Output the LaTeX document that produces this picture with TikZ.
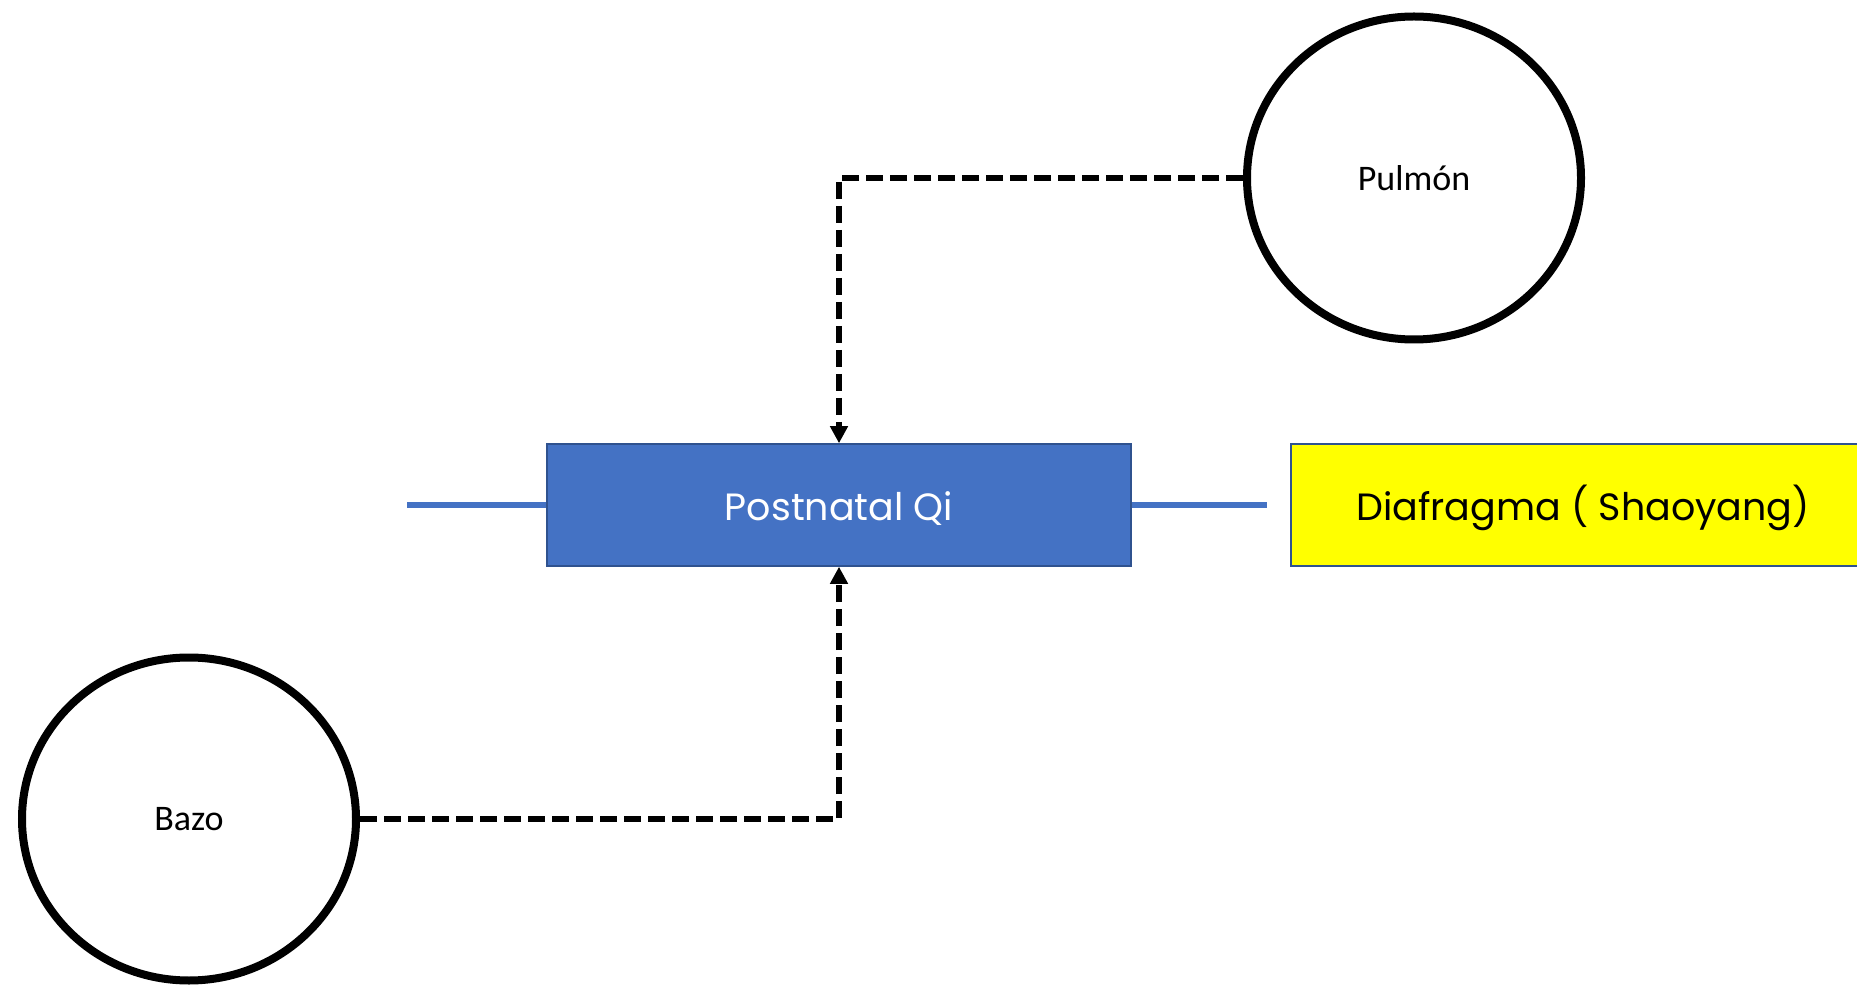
\documentclass[tikz,border=0pt]{standalone}
\usepackage{fontspec}
\setmainfont{Carlito}
\newfontfamily\titlefont{Poppins}
\usepackage{tikz}
\usetikzlibrary{calc,positioning,arrows.meta,shapes.geometric}

\definecolor{qiblue}{HTML}{4472C4}
\definecolor{qiedge}{HTML}{2F528F}
\definecolor{qiyellow}{HTML}{FFFF00}

\tikzset{
	organ/.style={draw=black,line width=4pt,ellipse,minimum width=167pt,minimum height=161.5pt,font=\fontsize{18}{20}\selectfont},
	qibox/.style={draw=qiedge,line width=0.75pt,minimum width=292pt,minimum height=61pt,text height=18pt,text depth=2pt,font=\titlefont\fontsize{19}{22}\selectfont},
	qiline/.style={draw=qiblue,line width=3.2pt},
	flow/.style={draw=black,line width=3pt,dash pattern=on 8.5pt off 3.5pt,-{Triangle[length=8.5pt,width=8.5pt]}}
}

\begin{document}
\begin{tikzpicture}[x=0.5pt,y=-0.5pt]
		\useasboundingbox (0,0) rectangle (1857,988);
		\clip (0,0) rectangle (1857,988);

		\node[qibox,fill=qiblue,text=white] (postnatal) at (839,505) {Postnatal Qi};
		\node[qibox,fill=qiyellow,text=black] (diafragma) at (1583,505) {Diafragma ( Shaoyang)};

		\node[organ] (pulmon) at (1414,178) {Pulm\'on};
		\node[organ] (bazo) at (189,819) {Bazo};

		% short blue stubs on both sides of the box
		\coordinate (stubl) at (407,505);
		\coordinate (stubr) at (1267,505);
		\draw[qiline] (stubl) -- (postnatal.west);
		\draw[qiline] (postnatal.east) -- (stubr);

		\draw[flow] (pulmon.west) -| (postnatal.north);
		\draw[flow] (bazo.east) -| (postnatal.south);
	\end{tikzpicture}
\end{document}
